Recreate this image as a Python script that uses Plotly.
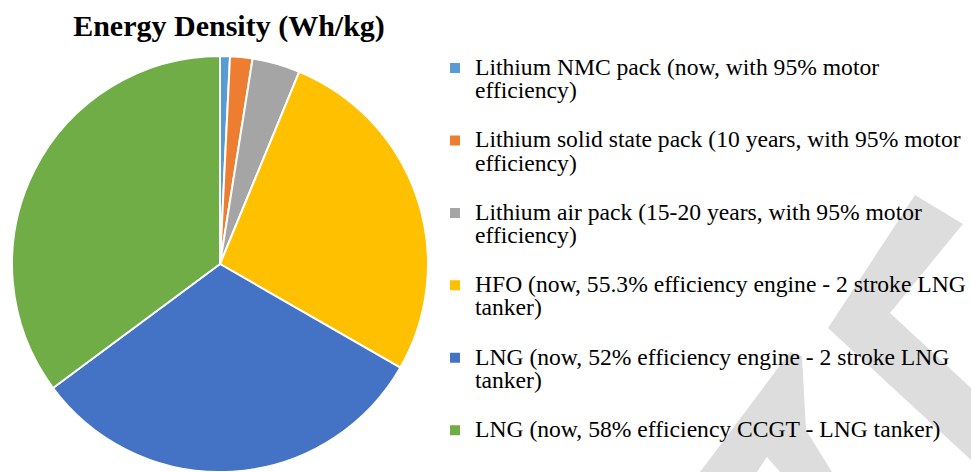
import plotly.graph_objects as go

# ---- data (Wh/kg, approximate) ----
labels = [
    "Lithium NMC pack (now, with 95% motor<br>efficiency)",
    "Lithium solid state pack (10 years, with 95% motor<br>efficiency)",
    "Lithium air pack (15-20 years, with 95% motor<br>efficiency)",
    "HFO (now, 55.3% efficiency engine - 2 stroke LNG<br>tanker)",
    "LNG (now, 52% efficiency engine - 2 stroke LNG<br>tanker)",
    "LNG (now, 58% efficiency CCGT - LNG tanker)",
]
values = [190, 430, 920, 6700, 7800, 8700]
colors = ["#5B9BD5", "#ED7D31", "#A5A5A5", "#FFC000", "#4472C4", "#70AD47"]
title_text = "Energy Density (Wh/kg)"

W, H = 971, 472
FONT = "Liberation Serif, Times New Roman, serif"


def legend_label(txt, last=False):
    body = f'<span style="font-size:23.6px">{txt}</span>'
    return body if last else body + "<br> "


legend_labels = [legend_label(t, i == len(labels) - 1) for i, t in enumerate(labels)]

cx, cy, r = 220, 264, 208

fig = go.Figure(
    go.Pie(
        labels=legend_labels,
        values=values,
        marker=dict(colors=colors, line=dict(color="white", width=2)),
        sort=False,
        direction="clockwise",
        rotation=0,
        textinfo="none",
        hoverinfo="label+value",
        domain=dict(x=[(cx - r) / W, (cx + r) / W], y=[(H - cy - r) / H, (H - cy + r) / H]),
    )
)


def px_path(pts):
    s = ""
    for i, (x, y) in enumerate(pts):
        s += ("M" if i == 0 else "L") + f"{x / W:.5f},{1 - y / H:.5f} "
    return s + "Z"


wm = "rgba(200,200,200,0.62)"
wm_polys = [
    # right chevron "<"
    [(915, 195), (963, 224), (890, 313), (971, 388), (971, 460), (828, 328)],
    # lower-left stroke with notch
    [(790, 352), (802, 356), (806, 430), (832, 472), (780, 472), (767, 457), (757, 472), (700, 472)],
]
shapes = [
    dict(type="path", xref="paper", yref="paper", layer="above",
         path=px_path(p), fillcolor=wm, line=dict(width=0))
    for p in wm_polys
]

fig.update_layout(
    width=W, height=H,
    margin=dict(l=0, r=0, t=0, b=0),
    paper_bgcolor="white", plot_bgcolor="white",
    font=dict(family=FONT, color="black"),
    title=dict(text=f"<b>{title_text}</b>", x=229 / W, xanchor="center",
               y=1 - 25 / H, yanchor="middle", yref="container",
               font=dict(family=FONT, size=30, color="black")),
    legend=dict(x=435 / W, xanchor="left", y=1 - 50 / H, yanchor="top",
                valign="top", font=dict(family=FONT, size=17.8, color="black"),
                bgcolor="rgba(0,0,0,0)"),
    shapes=shapes,
)

fig.write_html("out.html", config={"displayModeBar": False},
               post_script="document.body.style.margin='0';document.body.style.overflow='hidden';")
